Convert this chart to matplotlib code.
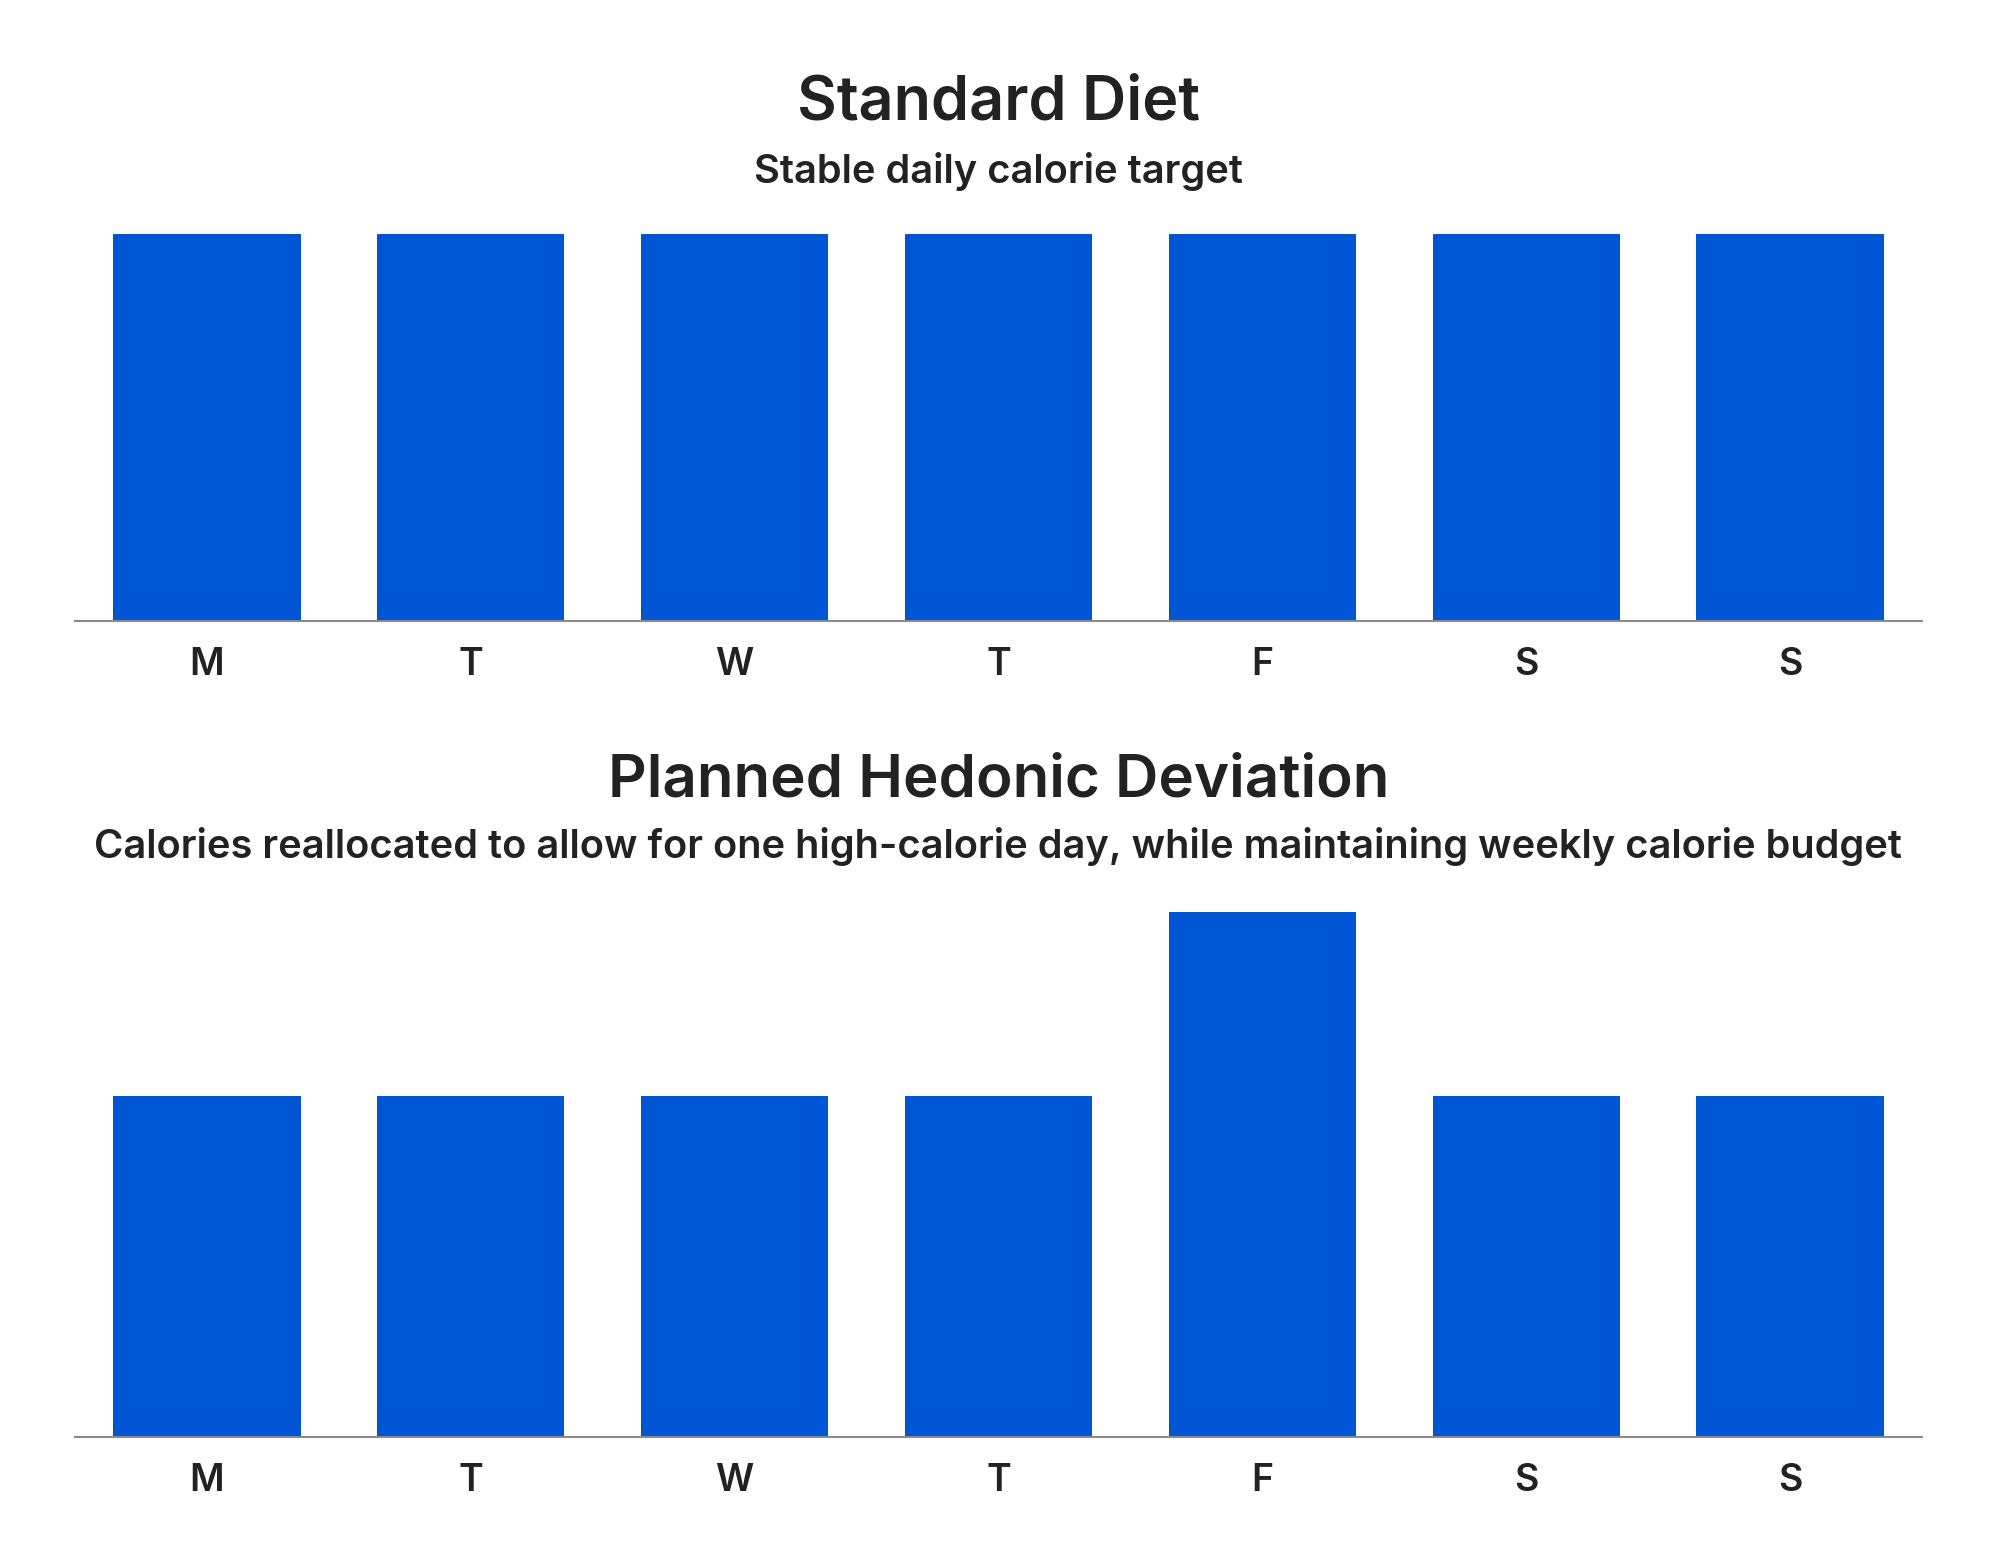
import matplotlib
matplotlib.use("Agg")
import matplotlib.pyplot as plt

# ---- data ----
days = ["M", "T", "W", "T", "F", "S", "S"]
standard_calories = [2000, 2000, 2000, 2000, 2000, 2000, 2000]
hedonic_calories = [1857, 1857, 1857, 1857, 2857, 1857, 1857]

title_top = "Standard Diet"
subtitle_top = "Stable daily calorie target"
title_bottom = "Planned Hedonic Deviation"
subtitle_bottom = "Calories reallocated to allow for one high-calorie day, while maintaining weekly calorie budget"

BAR = "#0055D4"
TXT = "#222222"
AXIS = "#8a8a8a"
FONT = ["Inter", "DejaVu Sans"]

W, H = 2000, 1565
fig = plt.figure(figsize=(W / 100, H / 100), dpi=100)
fig.patch.set_facecolor("white")

def frac_x(px):
    return px / W

def frac_y(px):
    return 1 - px / H

def make_axes(top_px, bottom_px):
    left, right = 75, 1922
    return fig.add_axes([frac_x(left), frac_y(bottom_px), frac_x(right - left),
                         (bottom_px - top_px) / H])

def style(ax, ymax):
    ax.set_xlim(-0.5, len(days) - 0.5)
    ax.set_ylim(0, ymax)
    for s in ["top", "right", "left"]:
        ax.spines[s].set_visible(False)
    ax.spines["bottom"].set_color(AXIS)
    ax.spines["bottom"].set_linewidth(1.5)
    ax.spines["bottom"].set_zorder(3)
    ax.set_yticks([])
    ax.set_xticks(range(len(days)))
    ax.set_xticklabels(days, fontsize=27, color=TXT, family=FONT, fontweight="semibold")
    ax.tick_params(axis="x", length=0, pad=19)
    ax.set_facecolor("none")

ax1 = make_axes(234, 621)
ax1.bar(range(len(days)), standard_calories, width=0.71, color=BAR, edgecolor="none")
style(ax1, 2000)

ax2 = make_axes(912.3, 1437)
ax2.bar(range(len(days)), hedonic_calories, width=0.71, color=BAR, edgecolor="none")
style(ax2, 2857)

cx = frac_x((75 + 1922) / 2)
fig.text(cx, frac_y(119), title_top, ha="center", va="baseline", fontsize=44,
         fontweight="semibold", color=TXT, family=FONT)
fig.text(cx, frac_y(183), subtitle_top, ha="center", va="baseline", fontsize=28.7,
         fontweight="semibold", color=TXT, family=FONT)
fig.text(cx, frac_y(796.7), title_bottom, ha="center", va="baseline", fontsize=43.3,
         fontweight="semibold", color=TXT, family=FONT)
fig.text(cx, frac_y(857.7), subtitle_bottom, ha="center", va="baseline", fontsize=28.7,
         fontweight="semibold", color=TXT, family=FONT)

fig.savefig("out.png", dpi=100, facecolor="white")
